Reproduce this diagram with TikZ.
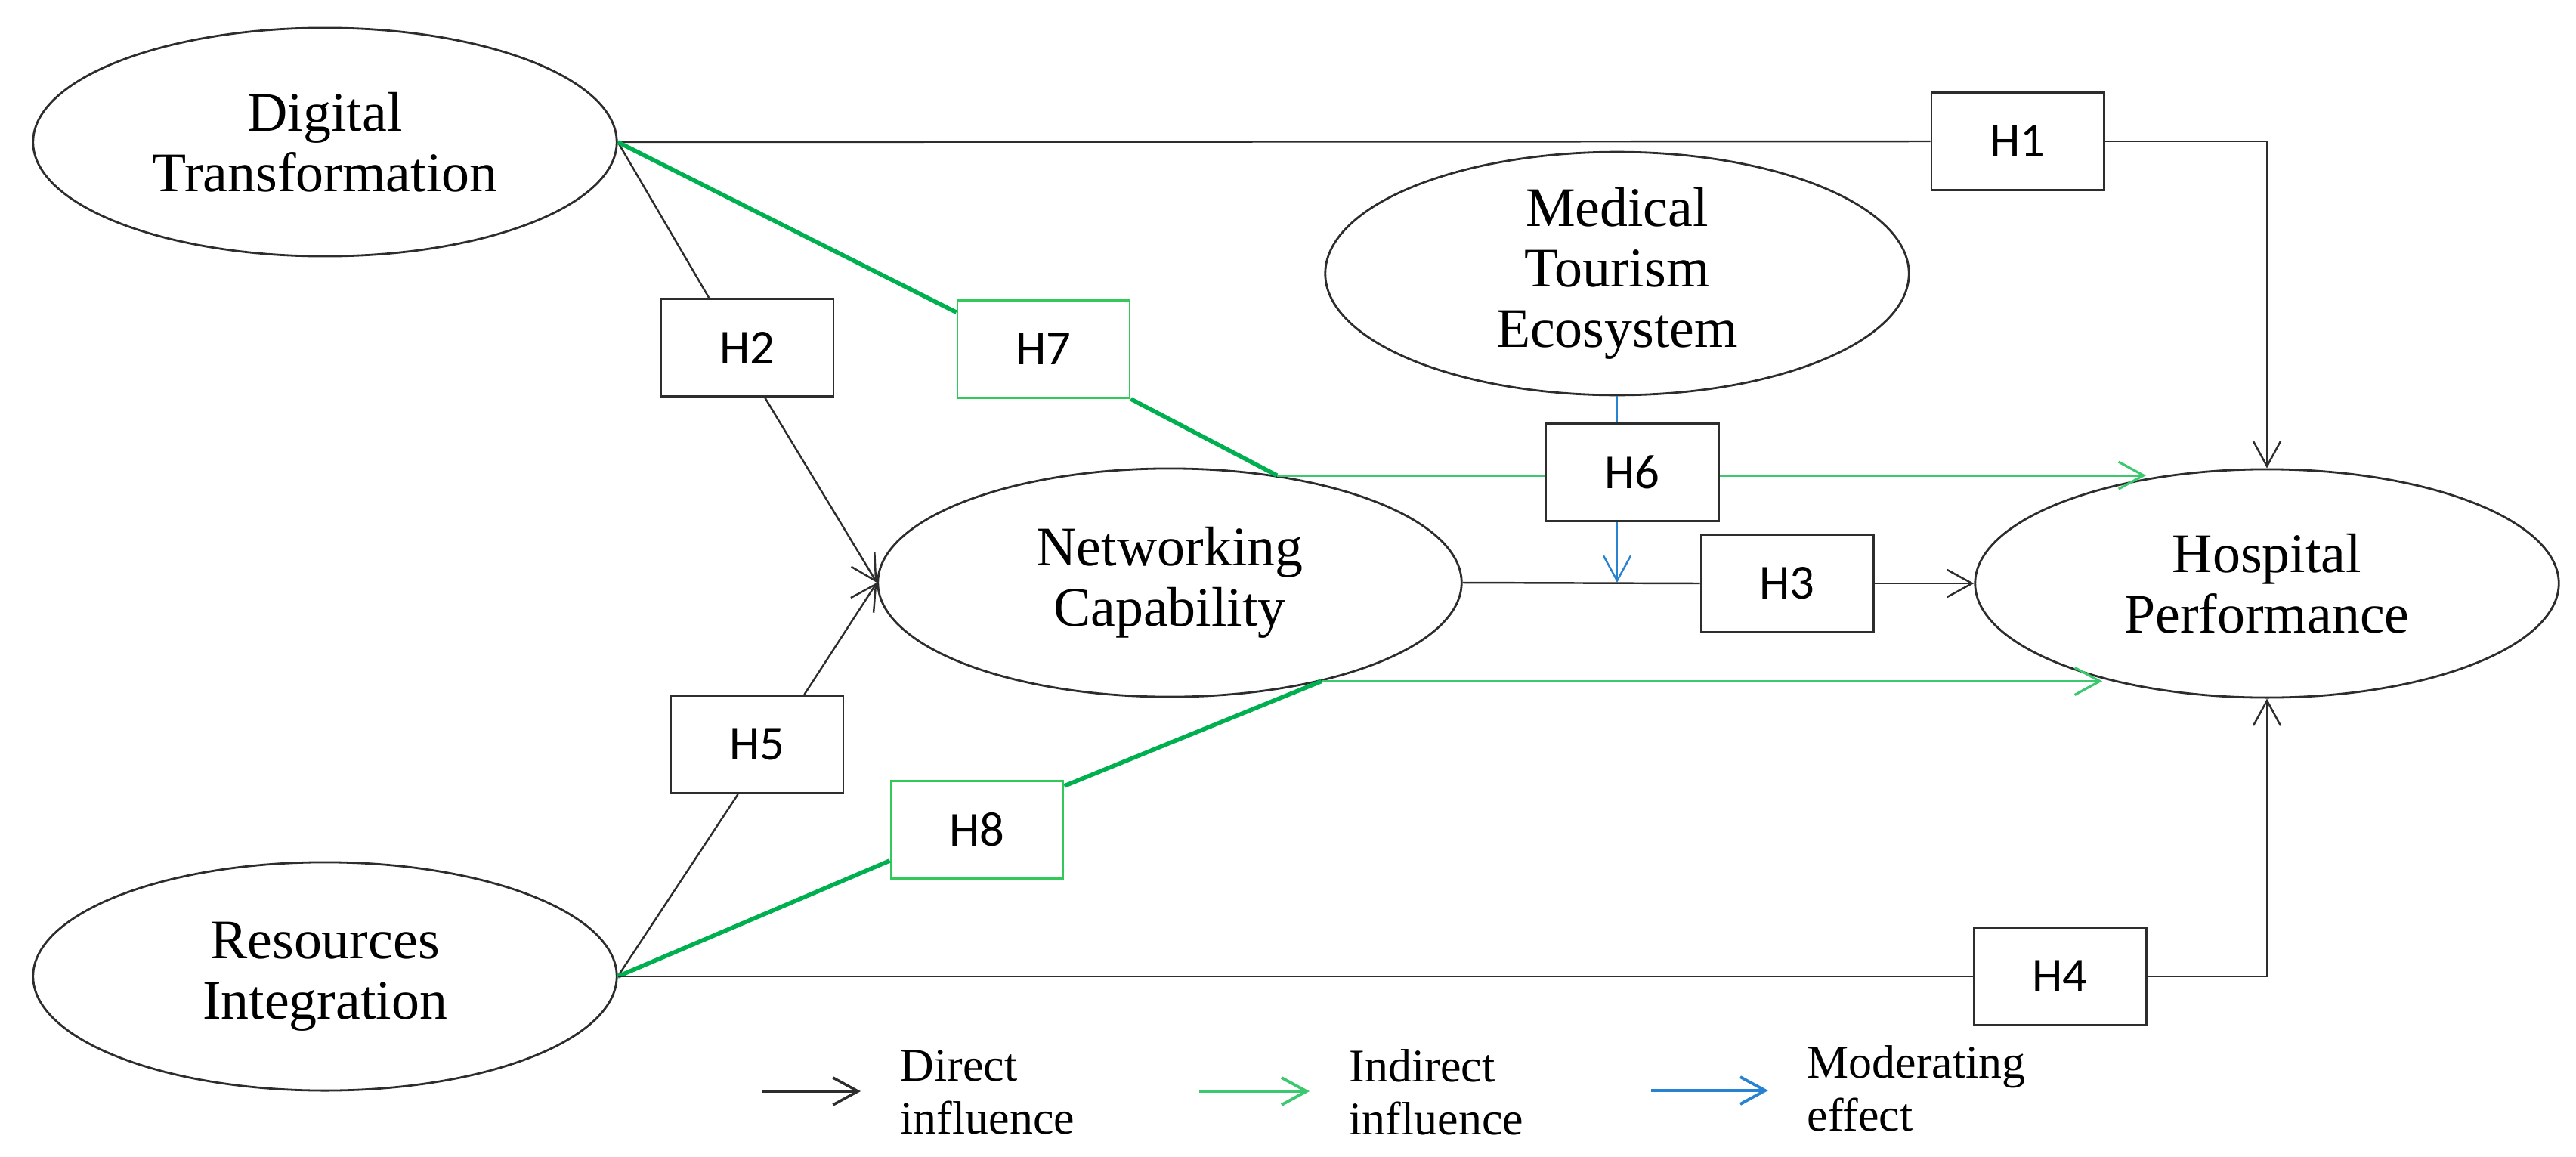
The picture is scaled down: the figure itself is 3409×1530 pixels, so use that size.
\documentclass[tikz,border=0pt]{standalone}
\usepackage{fontspec}
\setmainfont{Liberation Serif}
\newfontfamily\hfont{Carlito}
\usetikzlibrary{shapes.geometric,arrows.meta,calc}
\definecolor{gthick}{RGB}{0,176,80}
\definecolor{gthin}{RGB}{60,200,110}
\definecolor{gbox}{RGB}{50,200,90}
\definecolor{mblue}{RGB}{40,130,210}
\definecolor{lgray}{RGB}{45,45,45}
\begin{document}
\begin{tikzpicture}[x=0.01cm,y=-0.01cm,
 construct/.style={ellipse,draw=lgray,line width=0.8pt,minimum width=7.72cm,minimum height=3.02cm,inner sep=0pt,align=center,font=\fontsize{21}{22.8}\selectfont},
 hbox/.style={rectangle,draw=lgray,line width=0.8pt,minimum width=2.28cm,minimum height=1.29cm,inner sep=0pt,font=\hfont\fontsize{18.4}{20}\selectfont},
 hboxg/.style={hbox,draw=gbox},
 direct/.style={draw=lgray,line width=0.7pt},
 tip/.style={-{Straight Barb[length=0.33cm,width=0.36cm]}},
 indthick/.style={draw=gthick,line width=1.6pt},
 indthin/.style={draw=gthin,line width=0.9pt},
 moder/.style={draw=mblue,line width=0.7pt},
 legtext/.style={anchor=west,align=left,inner sep=0pt,font=\fontsize{17.6}{20}\selectfont}
]
\useasboundingbox (0,0) rectangle (3409,1530);
\node[construct] (DT) at (430,188) {Digital\\Transformation};
\node[construct] (MTE) at (2140,362) {Medical\\Tourism\\Ecosystem};
\node[construct] (NC) at (1548,771) {Networking\\Capability};
\node[construct] (HP) at (3000,772) {Hospital\\Performance};
\node[construct] (RI) at (430,1292) {Resources\\Integration};

\node[hbox] (H1) at (2670,187) {H1};
\node[hbox] (H2) at (989,460) {H2};
\node[hboxg] (H7) at (1381,462) {H7};
\node[hbox] (H6) at (2160,625) {H6};
\node[hbox] (H3) at (2365,772) {H3};
\node[hbox] (H5) at (1002,985) {H5};
\node[hboxg] (H8) at (1293,1098) {H8};
\node[hbox] (H4) at (2726,1292) {H4};

\coordinate (g1) at (2840,630);
\coordinate (g2) at (2782,900);

\draw[direct] (DT.east) -- (H1.west);
\draw[direct,tip] (H1.east) -- (H1.east -| HP.north) -- (HP.north);
\draw[direct] (DT.east) -- ($(H2.north west)!0.28!(H2.north east)$);
\draw[direct,tip] ($(H2.south west)!0.6!(H2.south east)$) -- (NC.west);
\draw[indthick] (DT.east) -- ($(H7.north west)!0.13!(H7.south west)$);
\draw[indthick] (H7.south east) -- (NC.45);
\draw[indthin] (NC.45) -- (NC.45 -| H6.west);
\draw[indthin,tip] (NC.45 -| H6.east) -- (NC.45 -| g1);
\draw[moder] (MTE.south) -- (MTE.south |- H6.north);
\draw[moder,tip] (MTE.south |- H6.south) -- (MTE.south |- NC.east);
\draw[direct] (NC.east) -- (H3.west);
\draw[direct,tip] (H3.east) -- (HP.west);
\draw[direct] (RI.east) -- ($(H5.south west)!0.39!(H5.south east)$);
\draw[direct,tip] ($(H5.north west)!0.77!(H5.north east)$) -- (NC.west);
\draw[indthick] (RI.east) -- ($(H8.north west)!0.81!(H8.south west)$);
\draw[indthick] ($(H8.north east)!0.06!(H8.south east)$) -- (NC.-33);
\draw[indthin,tip] (NC.-33) -- (NC.-33 -| g2);
\draw[direct] (RI.east) -- (H4.west);
\draw[direct,tip] (H4.east) -- (H4.east -| HP.south) -- (HP.south);

\coordinate (l1a) at (1009,1444); \coordinate (l1b) at (1139,1444);
\coordinate (l2a) at (1587,1444); \coordinate (l2b) at (1733,1444);
\coordinate (l3a) at (2185,1443); \coordinate (l3b) at (2340,1443);
\draw[direct,line width=1pt,tip] (l1a) -- (l1b);
\draw[indthin,line width=1.1pt,tip] (l2a) -- (l2b);
\draw[moder,line width=1.1pt,tip] (l3a) -- (l3b);
\node[legtext] (L1) at (1191,1445) {Direct\\influence};
\node[legtext] (L2) at (1785,1445) {Indirect\\influence};
\node[legtext] (L3) at (2391,1440) {Moderating\\effect};
\end{tikzpicture}
\end{document}
